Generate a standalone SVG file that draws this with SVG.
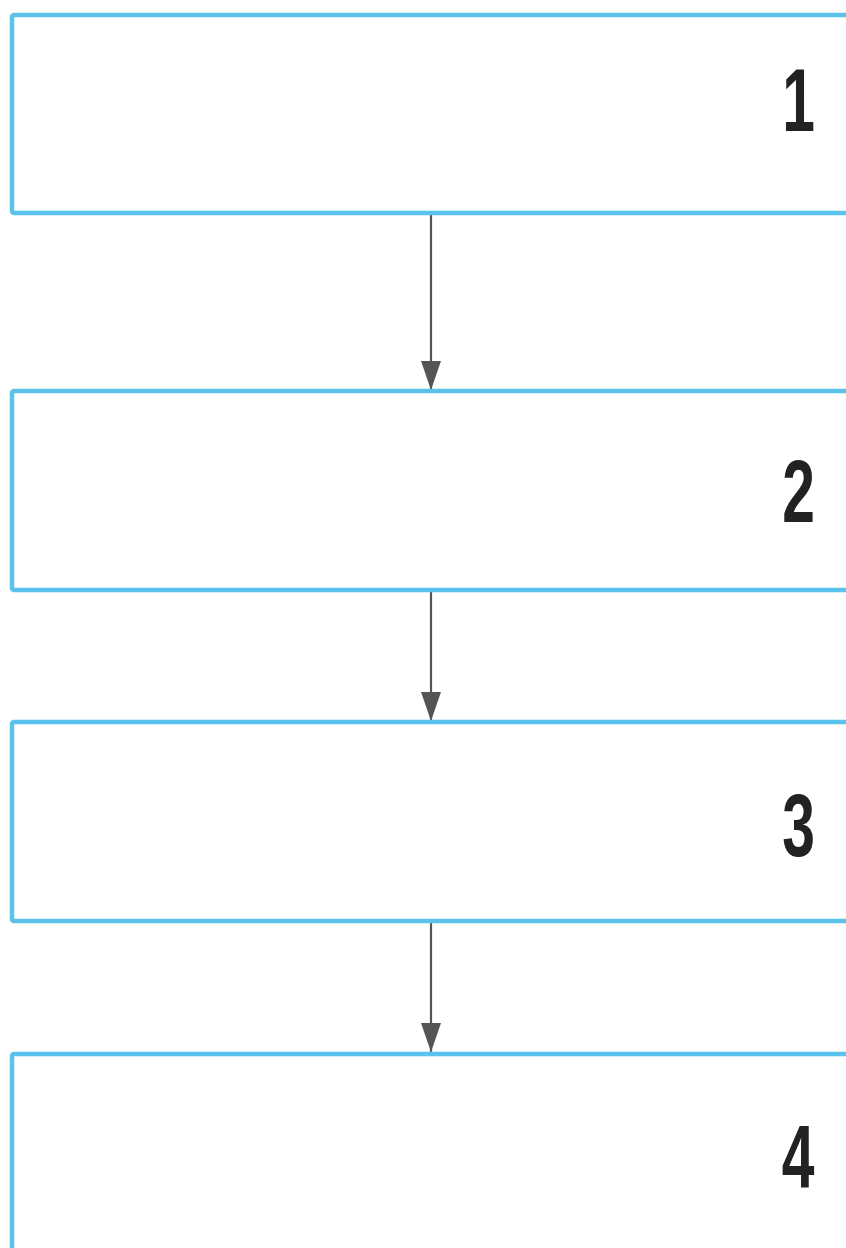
<svg xmlns="http://www.w3.org/2000/svg" width="846" height="1248" viewBox="0 0 846 1248">
<defs>
<style>
.box{fill:#ffffff;stroke:#5BC2EE;stroke-width:4.5;stroke-linejoin:round}
.num{font-family:"Liberation Sans",Arial,sans-serif;font-weight:bold;font-size:89px;fill:#222222;text-anchor:middle}
.conn{stroke:#555555;stroke-width:2.2;fill:none}
</style>
<marker id="arr" markerUnits="userSpaceOnUse" markerWidth="30" markerHeight="20" refX="29" refY="10" orient="auto" viewBox="0 0 30 20">
<path d="M0,0 L29,10 L0,20 Z" fill="#555555"/>
</marker>
</defs>
<rect width="846" height="1248" fill="#ffffff"/>
<g id="connectors">
<line class="conn" x1="431" y1="215" x2="431" y2="390" marker-end="url(#arr)"/>
<line class="conn" x1="431" y1="592" x2="431" y2="721" marker-end="url(#arr)"/>
<line class="conn" x1="431" y1="923" x2="431" y2="1052" marker-end="url(#arr)"/>
</g>
<g id="node1">
<rect class="box" x="12" y="15" width="860" height="198" rx="2"/>
<text class="num" transform="translate(798.5,131) scale(0.66,1)">1</text>
</g>
<g id="node2">
<rect class="box" x="12" y="391" width="860" height="199" rx="2"/>
<text class="num" transform="translate(798.5,522) scale(0.66,1)">2</text>
</g>
<g id="node3">
<rect class="box" x="12" y="722" width="860" height="199" rx="2"/>
<text class="num" transform="translate(798.5,856) scale(0.66,1)">3</text>
</g>
<g id="node4">
<rect class="box" x="12" y="1054" width="860" height="260" rx="2"/>
<text class="num" transform="translate(798,1188) scale(0.66,1)">4</text>
</g>
</svg>
